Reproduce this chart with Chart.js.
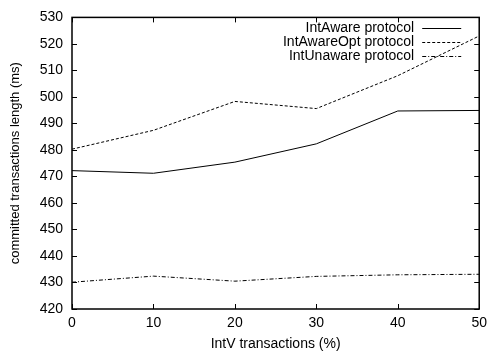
<!DOCTYPE html>
<html>
<head>
<meta charset="utf-8">
<script src="https://cdn.jsdelivr.net/npm/chart.js@4/dist/chart.umd.min.js"></script>
<style>
  html, body { margin: 0; padding: 0; background: #fff; }
  #wrap { width: 493px; height: 356px; }
</style>
</head>
<body>
<div id="wrap"><canvas id="c" width="493" height="356"></canvas></div>
<script>
// IntV transaction share (%) on the x axis
const intvShare = [0, 10, 20, 30, 40, 50];

// Committed transaction length (ms) per protocol
const intAware    = [472.2, 471.2, 475.4, 482.3, 494.7, 494.9];
const intAwareOpt = [480.3, 487.4, 498.3, 495.6, 508.0, 523.0];
const intUnaware  = [430.1, 432.4, 430.5, 432.3, 432.9, 433.1];

const seriesNames = ['IntAware protocol', 'IntAwareOpt protocol', 'IntUnaware protocol'];
const seriesDash  = [[], [3, 2], [4, 2, 1, 2]];

const FONT = "'Liberation Sans', Arial, Helvetica, sans-serif";
const FSIZE = 14;

function pts(vals) {
  return intvShare.map((x, i) => ({ x: x, y: vals[i] }));
}

// Full frame around the plot with inward tick marks on all four sides
const framePlugin = {
  id: 'frame',
  afterDatasetsDraw(chart) {
    const { ctx, chartArea: a, scales } = chart;
    ctx.save();
    ctx.strokeStyle = '#000';
    ctx.lineWidth = 1;
    const tl = 5;
    ctx.beginPath();
    scales.x.ticks.forEach(t => {
      const px = Math.round(scales.x.getPixelForValue(t.value)) + 0.5;
      ctx.moveTo(px, a.bottom); ctx.lineTo(px, a.bottom - tl);
      ctx.moveTo(px, a.top); ctx.lineTo(px, a.top + tl);
    });
    scales.y.ticks.forEach(t => {
      const py = Math.round(scales.y.getPixelForValue(t.value)) + 0.5;
      ctx.moveTo(a.left, py); ctx.lineTo(a.left + tl, py);
      ctx.moveTo(a.right, py); ctx.lineTo(a.right - tl, py);
    });
    ctx.stroke();
    ctx.lineWidth = 1.5;
    ctx.strokeRect(a.left, a.top, a.right - a.left, a.bottom - a.top);
    ctx.restore();
  }
};

// Legend inside the top-right corner: label text followed by a line sample
const keyPlugin = {
  id: 'key',
  afterDatasetsDraw(chart) {
    const { ctx, chartArea: a } = chart;
    ctx.save();
    ctx.font = FSIZE + 'px ' + FONT;
    ctx.fillStyle = '#000';
    ctx.textAlign = 'right';
    ctx.textBaseline = 'middle';
    const textRight = a.right - 65;
    const x0 = a.right - 57, x1 = a.right - 18;
    chart.data.datasets.forEach((ds, i) => {
      const y = a.top + 11 + i * 13.7;
      ctx.fillText(ds.label, textRight, y);
      ctx.setLineDash(ds.borderDash || []);
      ctx.lineWidth = 1;
      ctx.strokeStyle = '#000';
      ctx.beginPath();
      ctx.moveTo(x0, Math.round(y) + 0.5);
      ctx.lineTo(x1, Math.round(y) + 0.5);
      ctx.stroke();
    });
    ctx.restore();
  }
};

const datasets = [intAware, intAwareOpt, intUnaware].map((vals, i) => ({
  label: seriesNames[i],
  data: pts(vals),
  borderColor: '#000',
  borderWidth: 1,
  borderDash: seriesDash[i],
  pointRadius: 0,
  fill: false,
  tension: 0
}));

new Chart(document.getElementById('c'), {
  type: 'line',
  data: { datasets: datasets },
  options: {
    responsive: false,
    animation: false,
    layout: { padding: { left: 0, right: 9, top: 13, bottom: 0 } },
    plugins: { legend: { display: false }, tooltip: { enabled: false } },
    scales: {
      x: {
        type: 'linear',
        min: 0, max: 50,
        ticks: { stepSize: 10, padding: 6, color: '#000', font: { family: FONT, size: FSIZE } },
        grid: { display: false, drawTicks: false },
        border: { display: false },
        title: { display: true, text: 'IntV transactions (%)', color: '#000',
                 font: { family: FONT, size: FSIZE }, padding: { top: 0, bottom: 3 } },
        afterFit(scale) { scale.height = 47; }
      },
      y: {
        min: 420, max: 530,
        ticks: { stepSize: 10, padding: 9, color: '#000', font: { family: FONT, size: FSIZE } },
        grid: { display: false, drawTicks: false },
        border: { display: false },
        title: { display: true, text: 'committed transactions length (ms)', color: '#000',
                 font: { family: FONT, size: 13 }, padding: { top: 8, bottom: 0 } },
        afterFit(scale) { scale.width = 72; }
      }
    }
  },
  plugins: [framePlugin, keyPlugin]
});
</script>
</body>
</html>
